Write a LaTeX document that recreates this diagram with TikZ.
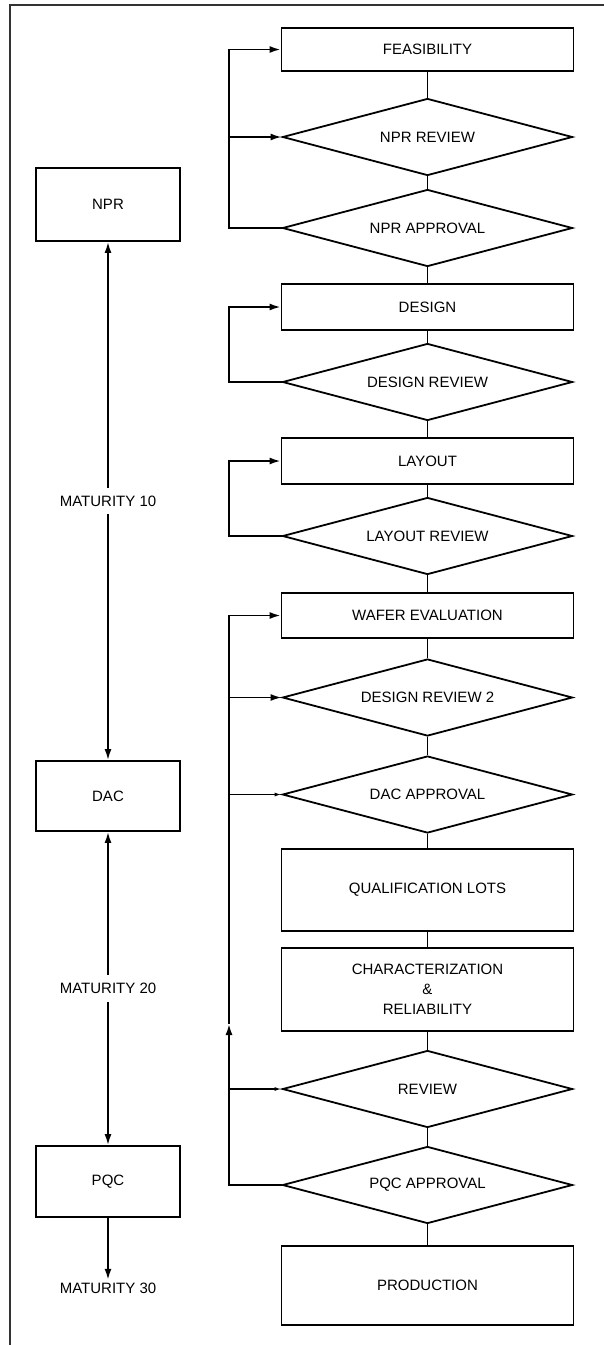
\documentclass[tikz,border=0pt]{standalone}
\usepackage{fontspec}
\setmainfont{Liberation Sans}
\usetikzlibrary{shapes.geometric,arrows.meta}
\tikzstyle{stage} = [rectangle, draw, fill=white, minimum width=292pt, inner sep=0pt, align=center]
\tikzstyle{check} = [diamond, draw, fill=white, aspect=3.8, minimum width=290pt, minimum height=77pt, inner sep=0pt]
\tikzstyle{gate} = [rectangle, draw, fill=white, minimum width=144pt, inner sep=0pt]
\tikzstyle{maturity} = [fill=white, inner xsep=2pt, inner ysep=8pt]
\tikzstyle{smalltip} = [-{Latex[length=7pt,width=4pt]}]

\begin{document}
\begin{tikzpicture}[x=1pt,y=-1pt,>={Latex[length=11pt,width=7pt]},line width=1.8pt,font=\fontsize{15}{20}\selectfont]
  \useasboundingbox (0,0) rectangle (604,1345);
  \draw[line width=1.2pt, black!80] (604,5) -- (10,5) -- (10,1345);

  % process steps
  \node[stage, minimum height=43pt] (feas) at (427.5,49.5) {FEASIBILITY};
  \node[check] (nprrev) at (427.5,137) {NPR REVIEW};
  \node[check] (nprapp) at (427.5,228) {NPR APPROVAL};
  \node[stage, minimum height=46pt] (design) at (427.5,307) {DESIGN};
  \node[check] (desrev) at (427.5,382) {DESIGN REVIEW};
  \node[stage, minimum height=46pt] (layout) at (427.5,461) {LAYOUT};
  \node[check] (layrev) at (427.5,536) {LAYOUT REVIEW};
  \node[stage, minimum height=45pt] (wafer) at (427.5,615.5) {WAFER EVALUATION};
  \node[check] (desrev2) at (427.5,697.5) {DESIGN REVIEW 2};
  \node[check] (dacapp) at (427.5,794.5) {DAC APPROVAL};
  \node[stage, minimum height=82pt] (qual) at (427.5,890) {QUALIFICATION LOTS};
  \node[stage, minimum height=83pt] (char) at (427.5,989.5) {CHARACTERIZATION\\\&\\RELIABILITY};
  \node[check] (review) at (427.5,1089) {REVIEW};
  \node[check] (pqcapp) at (427.5,1185) {PQC APPROVAL};
  \node[stage, minimum height=79pt] (prod) at (427.5,1285.5) {PRODUCTION};

  % milestones
  \node[gate, minimum height=73pt] (npr) at (108,204.5) {NPR};
  \node[gate, minimum height=70pt] (dac) at (108,796) {DAC};
  \node[gate, minimum height=71pt] (pqc) at (108,1181.5) {PQC};
  \node[inner sep=2pt] (mat30) at (108,1288) {MATURITY 30};

  \foreach \a/\b in {feas/nprrev, nprrev/nprapp, nprapp/design, design/desrev,
      desrev/layout, layout/layrev, layrev/wafer, wafer/desrev2, desrev2/dacapp,
      dacapp/qual, qual/char, char/review, review/pqcapp, pqcapp/prod}
    \draw (\a.south) -- (\b.north);

  % loops back
  \coordinate (fb) at (229,0);
  \coordinate (up) at (229,1024);
  \draw[->] (nprapp.west) -- (nprapp.west -| fb) |- (feas.west);
  \draw[->] (nprrev.west -| fb) -- (nprrev.west);
  \draw[->] (desrev.west) -- (desrev.west -| fb) |- (design.west);
  \draw[->] (layrev.west) -- (layrev.west -| fb) |- (layout.west);
  \draw[->] (pqcapp.west) -| (up);
  \draw[->] (up) |- (wafer.west);
  \draw[->] (desrev2.west -| fb) -- (desrev2.west);
  \draw[smalltip] (dacapp.west -| fb) -- (dacapp.west);
  \draw[smalltip] (review.west -| fb) -- (review.west);

  \draw[<->] (npr) -- node[maturity] {MATURITY 10} (dac);
  \draw[<->] (dac) -- node[maturity] {MATURITY 20} (pqc);
  \draw[->] (pqc) -- (mat30);
\end{tikzpicture}
\end{document}
